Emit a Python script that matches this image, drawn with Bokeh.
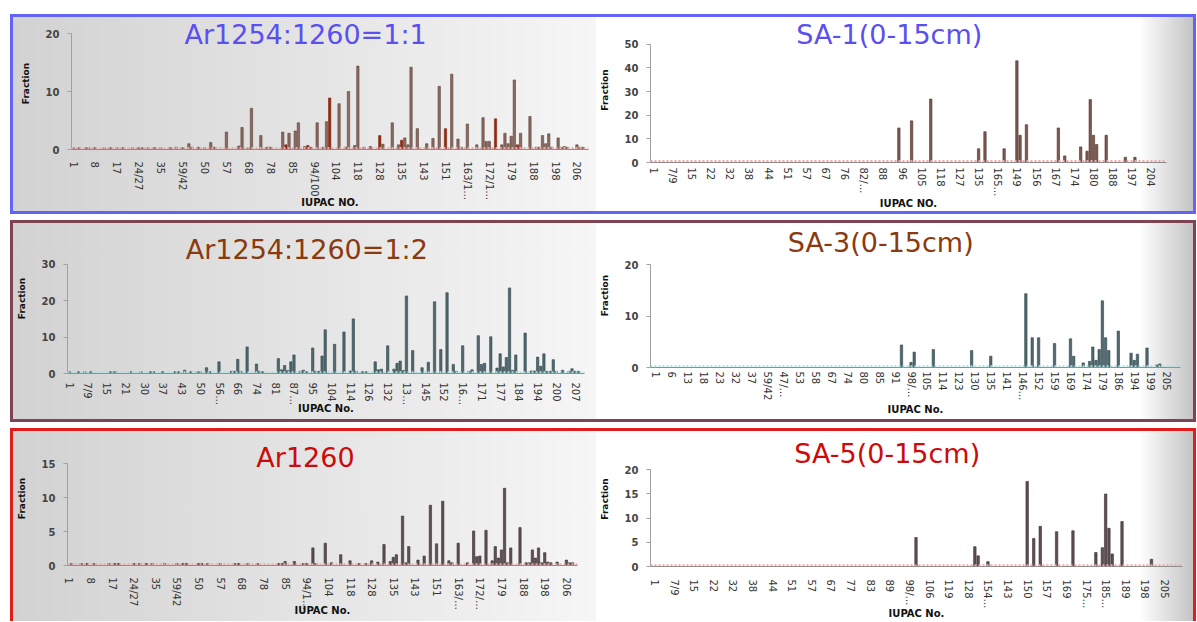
import math
from bokeh.plotting import figure
from bokeh.models import Range1d, FixedTicker, Span, Label
from bokeh.layouts import row, column
from bokeh.embed import file_html
from bokeh.resources import INLINE

# ---------------- data ----------------
P1_TICKS = ["1", "8", "17", "24/27", "35", "59/42", "50", "57", "68", "78", "85", "94/100", "104", "118",
            "128", "135", "143", "151", "163/1…", "172/1…", "179", "188", "198", "206"]
P1_X = [0, 2, 4, 5, 7, 10, 12, 14, 16, 19, 21, 22, 24, 26, 28, 31, 33, 35, 37, 38, 40, 42, 44, 45, 49, 53,
        54, 56, 57, 60, 62, 63, 67, 69, 71, 72, 74, 76, 78, 80, 81, 85, 87, 88, 90, 91, 93, 95, 99, 102, 104,
        106, 107, 108, 110, 113, 115, 117, 121, 123, 124, 126, 129, 131, 132, 133, 137, 138, 139, 140, 141,
        143, 146, 148, 149, 150, 151, 152, 153, 155, 156, 157, 158, 161, 162, 163]
P1_Y = [0.3, 0.3, 0.3, 0.3, 0.3, 0.3, 0.3, 0.3, 0.3, 0.3, 0.3, 0.3, 0.3, 0.3, 0.3, 0.3, 0.4, 0.3, 1.0, 0.4,
        0.4, 0.3, 1.2, 0.4, 3.0, 0.6, 3.8, 0.3, 7.1, 2.4, 0.4, 0.4, 3.0, 2.8, 3.2, 4.6, 0.5, 0.4, 4.6, 0.4,
        4.8, 7.9, 0.4, 10.0, 0.7, 14.4, 0.4, 0.5, 0.9, 4.6, 0.8, 2.0, 0.8, 14.2, 3.6, 1.0, 1.9, 10.9, 13.0,
        1.8, 0.4, 4.4, 0.8, 5.5, 1.4, 1.4, 0.8, 2.8, 1.0, 2.3, 12.0, 2.8, 5.7, 0.4, 0.4, 2.4, 1.0, 2.7, 0.4,
        2.0, 0.4, 0.5, 0.4, 0.8, 0.4, 0.4]
P1_RED_X = [68, 75, 82, 98, 105, 119, 135, 142]
P1_RED_Y = [0.8, 0.7, 8.9, 2.4, 1.6, 3.6, 5.3, 0.8]

P2_TICKS = ["1", "7/9", "15", "22", "32", "38", "44", "51", "57", "67", "76", "82/…", "88", "96", "105",
            "118", "127", "135", "165…", "149", "156", "167", "174", "180", "188", "197", "204"]
P2_X = [77, 81, 87, 102, 104, 110, 114, 115, 117, 127, 129, 134, 136, 137, 138, 139, 142, 148, 151]
P2_Y = [14.6, 17.6, 26.8, 5.8, 13.0, 5.8, 43.0, 11.5, 16.0, 14.6, 2.8, 6.6, 4.8, 26.6, 11.5, 7.6, 11.5,
        2.2, 2.2]

P3_TICKS = ["1", "7/9", "15", "21", "30", "37", "43", "50", "56…", "66", "74", "81", "87…", "95", "104",
            "114", "126", "132", "13…", "145", "152", "16…", "171", "177", "184", "194", "200", "207"]
P3_X = [0, 3, 5, 7, 13, 14, 15, 20, 23, 26, 27, 30, 34, 35, 37, 39, 41, 42, 44, 45, 48, 52, 53, 54, 55,
        57, 60, 61, 62, 67, 68, 69, 70, 71, 72, 74, 75, 76, 78, 79, 80, 81, 82, 85, 88, 90, 91, 92, 94, 95,
        98, 99, 100, 102, 104, 105, 106, 107, 108, 110, 113, 115, 117, 119, 121, 123, 124, 126, 128, 129,
        131, 132, 133, 135, 137, 138, 139, 140, 141, 142, 143, 146, 148, 149, 150, 151, 152, 153, 154, 155,
        156, 158, 160, 161, 162, 163]
P3_Y = [0.5, 0.5, 0.5, 0.5, 0.5, 0.5, 0.5, 0.5, 0.5, 0.5, 0.5, 0.5, 0.5, 0.5, 0.9, 0.5, 0.5, 0.5, 1.6, 0.5,
        3.2, 0.6, 0.6, 3.9, 0.6, 7.3, 2.6, 0.6, 0.5, 4.1, 1.0, 2.2, 0.8, 3.2, 5.1, 0.6, 0.9, 0.5, 7.0, 0.6,
        0.6, 4.8, 12.0, 8.0, 11.4, 0.7, 15.0, 0.6, 0.5, 0.5, 3.2, 1.0, 1.2, 7.6, 1.2, 2.8, 3.4, 0.8, 21.3,
        6.3, 1.6, 3.1, 19.7, 6.6, 22.2, 2.5, 0.6, 7.6, 0.6, 1.0, 10.4, 2.5, 2.8, 10.1, 1.5, 5.4, 1.8, 4.4,
        23.5, 0.9, 5.1, 11.1, 0.7, 0.7, 4.5, 2.0, 5.4, 0.6, 0.6, 3.8, 0.6, 0.9, 0.6, 1.3, 0.6, 0.6]

P4_TICKS = ["1", "6", "13", "18", "23", "32", "37", "59/42", "47/…", "53", "58", "67", "74", "80", "85",
            "91", "98/…", "105", "114", "123", "130", "135", "141", "146…", "152", "159", "169", "174",
            "179", "186", "194", "199", "205"]
P4_X = [77, 80, 81, 87, 99, 105, 116, 118, 120, 125, 130, 131, 134, 136, 137, 138, 139, 140, 141, 142,
        145, 149, 150, 151, 154, 157, 158]
P4_Y = [4.4, 1.0, 3.0, 3.5, 3.3, 2.2, 14.4, 5.8, 5.8, 4.7, 5.6, 2.2, 0.9, 1.2, 4.0, 1.4, 3.5, 13.0, 5.8,
        3.3, 7.1, 2.8, 1.4, 2.6, 3.8, 0.5, 0.7]

P5_TICKS = ["1", "8", "17", "24/27", "35", "59/42", "50", "57", "68", "78", "85", "94/1…", "104", "118",
            "128", "135", "143", "151", "163/…", "172/…", "179", "188", "198", "206"]
P5_X = [1, 4, 6, 8, 13, 15, 16, 21, 23, 25, 27, 31, 35, 37, 38, 42, 43, 45, 49, 54, 55, 58, 61, 68, 69,
        70, 73, 76, 77, 79, 80, 83, 85, 88, 91, 94, 96, 98, 100, 102, 104, 105, 106, 108, 109, 110, 113,
        115, 117, 119, 121, 123, 124, 126, 129, 131, 132, 133, 135, 137, 138, 139, 140, 141, 142, 143, 146,
        148, 149, 150, 151, 152, 153, 154, 155, 156, 158, 161, 162, 163]
P5_Y = [0.3, 0.3, 0.3, 0.3, 0.3, 0.3, 0.3, 0.3, 0.3, 0.3, 0.3, 0.3, 0.3, 0.3, 0.3, 0.3, 0.3, 0.3, 0.3, 0.3,
        0.3, 0.3, 0.3, 0.3, 0.3, 0.6, 0.6, 0.3, 0.3, 2.6, 0.3, 3.3, 0.4, 1.6, 0.7, 0.3, 0.3, 0.7, 0.5, 3.1,
        0.6, 1.2, 1.6, 7.3, 0.4, 2.8, 0.8, 1.4, 8.9, 3.2, 9.5, 0.7, 0.4, 3.3, 0.4, 5.1, 1.3, 1.4, 5.2, 0.7,
        2.8, 1.1, 2.3, 11.4, 0.4, 2.6, 5.6, 0.4, 0.4, 2.3, 1.1, 2.6, 0.4, 1.9, 0.5, 0.4, 0.5, 0.8, 0.4, 0.4]

P6_TICKS = ["1", "7/9", "15", "22", "32", "38", "44", "51", "57", "67", "77", "83", "89", "98/…", "106",
            "119", "128", "154…", "143", "150", "157", "169", "175…", "185…", "189", "198", "205"]
P6_X = [80, 98, 99, 102, 114, 116, 118, 123, 128, 135, 137, 138, 139, 140, 143, 152]
P6_Y = [6.0, 4.1, 2.2, 1.0, 17.6, 5.8, 8.3, 7.2, 7.4, 2.9, 3.9, 15.0, 7.9, 2.6, 9.3, 1.5]

LEFT_BG = "linear-gradient(to right, #d2d2d2 0%, #e4e4e4 50%, #f6f6f6 100%)"
RIGHT_BG = "linear-gradient(to right, #ffffff 0%, #ffffff 91%, #c4c4c4 100%)"
FONT = "DejaVu Sans"


def panel(w, h, borders, xr, ytop, ymax, ystep, ticks, k, xs, ys, fill, line, title, tcolor, tpos,
          xlabel, std, lstd, bg, span_color, extra=None):
    bl, br, bt, bb = borders
    p = figure(width=w, height=h, output_backend="svg", toolbar_location=None,
               x_range=Range1d(*xr), y_range=Range1d(0, ytop),
               min_border_left=bl, min_border_right=br, min_border_top=bt, min_border_bottom=bb)
    p.frame_align = False
    p.background_fill_alpha = 0
    p.border_fill_alpha = 0
    p.outline_line_color = None
    p.grid.visible = False
    p.styles = {"background": bg}

    pos = [i * k for i in range(len(ticks))]
    xa = p.xaxis[0]
    xa.ticker = FixedTicker(ticks=pos)
    xa.major_label_overrides = {pp: t for pp, t in zip(pos, ticks)}
    xa.major_label_orientation = "vertical"
    xa.major_tick_out = 0
    xa.major_tick_in = 0
    xa.minor_tick_out = 0
    xa.axis_line_color = "#8c8c8c"
    xa.major_label_text_font = FONT
    xa.major_label_text_font_size = "10px"
    xa.major_label_text_color = "#333333"
    xa.major_label_standoff = std
    xa.axis_label = xlabel
    xa.axis_label_text_font = FONT
    xa.axis_label_text_font_style = "bold"
    xa.axis_label_text_font_size = "10px"
    xa.axis_label_text_color = "#111111"
    xa.axis_label_standoff = lstd

    ya = p.yaxis[0]
    ya.bounds = (0, ymax)
    ya.ticker = FixedTicker(ticks=list(range(0, ymax + 1, ystep)))
    ya.axis_line_color = "#a0a0a0"
    ya.major_tick_out = 4
    ya.major_tick_in = 0
    ya.minor_tick_out = 0
    ya.major_tick_line_color = "#a0a0a0"
    ya.major_label_text_font = FONT
    ya.major_label_text_font_style = "bold"
    ya.major_label_text_font_size = "10px"
    ya.major_label_text_color = "#444444"
    ya.major_label_standoff = 8
    ya.axis_label = "Fraction"
    ya.axis_label_text_font = FONT
    ya.axis_label_text_font_style = "bold"
    ya.axis_label_text_font_size = "9px"
    ya.axis_label_text_color = "#111111"
    ya.axis_label_standoff = 12

    p.add_layout(Span(location=ymax * 0.012, dimension="width", line_color=span_color,
                      line_dash="2 2", line_width=2))
    p.vbar(x=xs, top=ys, width=0.75, fill_color=fill, line_color=line, line_width=0.6)
    if extra is not None:
        p.vbar(x=extra[0], top=extra[1], width=0.75, fill_color=extra[2], line_color=extra[2],
               line_width=0.6)
    p.add_layout(Label(x=tpos[0], y=tpos[1], text=title, text_font=FONT, text_font_size="27px",
                       text_color=tcolor, text_align="center", text_baseline="middle"))
    return p


BROWN = ("#8a6b62", "#5e3f36")
BROWN2 = ("#7d5a50", "#4e2f26")
TEAL = ("#50686e", "#2e464c")
GREY = ("#5e5052", "#3a2e30")

p1 = panel(583, 194, (58, 8, 0, 60), (-0.5, 164.7), 22.78, 20, 10, P1_TICKS, 7, P1_X, P1_Y, *BROWN,
           "Ar1254:1260=1:1", "#5a4ff0", (74.3, 19.9), "IUPAC NO.", 12, -6, LEFT_BG, "#f0a8a8",
           extra=(P1_RED_X, P1_RED_Y, "#8b2a12"))
p2 = panel(597, 194, (51, 27, 0, 49), (-0.85, 160.9), 61.3, 50, 10, P2_TICKS, 6, P2_X, P2_Y, *BROWN2,
           "SA-1(0-15cm)", "#5a4ff0", (74, 54.1), "IUPAC NO.", 5, -2, RIGHT_BG, "#f0a8a8")
p3 = panel(583, 196, (54, 12, 0, 46), (-0.5, 165.0), 41.2, 30, 10, P3_TICKS, 6, P3_X, P3_Y, *TEAL,
           "Ar1254:1260=1:2", "#8b3a10", (76.1, 34.1), "IUPAC No.", 9, -5, LEFT_BG, "#a6e2e2")
p4 = panel(597, 196, (50, 13, 0, 52), (-1.7, 164.5), 28.07, 20, 10, P4_TICKS, 5, P4_X, P4_Y, *TEAL,
           "SA-3(0-15cm)", "#8b3a10", (70.5, 24.4), "IUPAC No.", 4, 0, RIGHT_BG, "#a6e2e2")
p5 = panel(583, 190, (47, 19, 0, 56), (-0.4, 164.6), 19.78, 15, 5, P5_TICKS, 7, P5_X, P5_Y, *GREY,
           "Ar1260", "#cc0a0a", (76.6, 16.0), "IUPAC No.", 12, -8, LEFT_BG, "#f0a8a8")
p6 = panel(597, 190, (48, 11, 0, 55), (-1.2, 161.5), 27.92, 20, 5, P6_TICKS, 6, P6_X, P6_Y, *GREY,
           "SA-5(0-15cm)", "#cc0a0a", (71.2, 23.3), "IUPAC No.", 13, -4, RIGHT_BG, "#f0a8a8")

r1 = row(p1, p2, margin=(14, 0, 0, 10), styles={"border": "3px solid #6464f4"})
r2 = row(p3, p4, margin=(6, 0, 0, 10), styles={"border": "3px solid #7e4452"})
r3 = row(p5, p6, margin=(6, 0, 0, 10), styles={"border": "3px solid #e01c1c", "border-bottom": "none"})
layout = column(r1, r2, r3)

open("out.html", "w").write(file_html(layout, INLINE))
